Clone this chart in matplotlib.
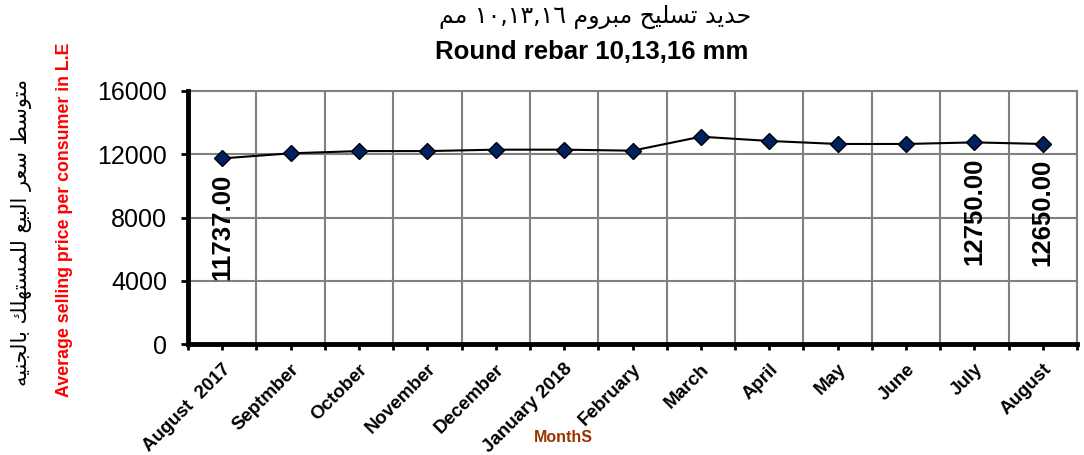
import numpy as np
import matplotlib
matplotlib.use("Agg")
import matplotlib.pyplot as plt

months = ["August  2017", "Septmber", "October", "November", "December",
          "January 2018", "February", "March", "April", "May", "June",
          "July", "August"]
prices = [11737, 12060, 12200, 12200, 12290, 12290, 12225,
          13110, 12840, 12650, 12650, 12750, 12650]
labelled = [0, 11, 12]  # points that carry a value label

title_ar = "حديد تسليح مبروم ١٠,١٣,١٦ مم"
title_en = "Round rebar 10,13,16 mm"
ylabel_ar = "متوسط سعر البيع للمستهلك بالجنيه"
ylabel_en = "Average selling price per consumer in L.E"
xlabel = "MonthS"

# small arabic shaper (no arabic_reshaper in the sandbox)
FORMS = {
    "ا": (0xFE8D, 0xFE8E, None, None),
    "ب": (0xFE8F, 0xFE90, 0xFE91, 0xFE92),
    "ة": (0xFE93, 0xFE94, None, None),
    "ت": (0xFE95, 0xFE96, 0xFE97, 0xFE98),
    "ج": (0xFE9D, 0xFE9E, 0xFE9F, 0xFEA0),
    "ح": (0xFEA1, 0xFEA2, 0xFEA3, 0xFEA4),
    "د": (0xFEA9, 0xFEAA, None, None),
    "ر": (0xFEAD, 0xFEAE, None, None),
    "س": (0xFEB1, 0xFEB2, 0xFEB3, 0xFEB4),
    "ط": (0xFEC1, 0xFEC2, 0xFEC3, 0xFEC4),
    "ع": (0xFEC9, 0xFECA, 0xFECB, 0xFECC),
    "ك": (0xFED9, 0xFEDA, 0xFEDB, 0xFEDC),
    "ل": (0xFEDD, 0xFEDE, 0xFEDF, 0xFEE0),
    "م": (0xFEE1, 0xFEE2, 0xFEE3, 0xFEE4),
    "ن": (0xFEE5, 0xFEE6, 0xFEE7, 0xFEE8),
    "ه": (0xFEE9, 0xFEEA, 0xFEEB, 0xFEEC),
    "و": (0xFEED, 0xFEEE, None, None),
    "ي": (0xFEF1, 0xFEF2, 0xFEF3, 0xFEF4),
}


def shape_word(w):
    out = ""
    for i, c in enumerate(w):
        if c not in FORMS:
            out += c
            continue
        f = FORMS[c]
        prev = w[i - 1] if i > 0 else ""
        nxt = w[i + 1] if i + 1 < len(w) else ""
        jp = prev in FORMS and FORMS[prev][2] is not None
        jn = nxt in FORMS and f[2] is not None
        if jp and jn:
            out += chr(f[3])
        elif jp:
            out += chr(f[1])
        elif jn:
            out += chr(f[2])
        else:
            out += chr(f[0])
    return out


def rtl(s):
    words = []
    for w in s.split(" "):
        if any(ch in FORMS for ch in w):
            words.append(shape_word(w)[::-1])
        else:
            words.append(w)
    return " ".join(words[::-1])


plt.rcParams["font.family"] = ["Liberation Sans", "DejaVu Sans"]

fig = plt.figure(figsize=(10.84, 4.55), dpi=100)
ax = fig.add_axes([188 / 1084, 111 / 455, 889 / 1084, 253 / 455])

x = np.arange(len(months))
ax.plot(x, prices, color="black", lw=1.5, marker="D", ms=8,
        mfc="#002060", mec="black", mew=1, zorder=5, clip_on=False)

for i in labelled:
    ax.annotate(f"{prices[i]:.2f}", (x[i], prices[i]), xytext=(0, -11),
                textcoords="offset points", rotation=90, ha="center", va="top",
                fontsize=18.5, fontweight="bold")

ax.set_xlim(-0.5, len(months) - 0.5)
ax.set_ylim(0, 16000)
ax.set_yticks([0, 4000, 8000, 12000, 16000])
ax.set_yticklabels(["0", "4000", "8000", "12000", "16000"], fontsize=18)

ax.set_xticks(x)
ax.set_xticklabels(months, rotation=45, ha="right", va="top",
                   rotation_mode="anchor", fontsize=13.5, fontweight="bold")
ax.set_xticks(np.arange(len(months) + 1) - 0.5, minor=True)
ax.tick_params(axis="x", which="both", length=4, width=2, pad=8)
ax.tick_params(axis="y", length=5, width=2, pad=10)

ax.grid(True, which="minor", axis="x", color="#808080", lw=1.5)
ax.grid(True, which="major", axis="y", color="#808080", lw=1.5)
ax.set_axisbelow(True)

for s in ["top", "right"]:
    ax.spines[s].set_color("#808080")
    ax.spines[s].set_linewidth(1.5)
for s in ["left", "bottom"]:
    ax.spines[s].set_color("black")
    ax.spines[s].set_linewidth(3.5)
    ax.spines[s].set_zorder(6)

fig.text(595 / 1084, 1 - 17 / 455, rtl(title_ar), ha="center", va="center",
         fontsize=17, family="DejaVu Sans")
fig.text(592 / 1084, 1 - 52 / 455, title_en, ha="center", va="center",
         fontsize=18.5, fontweight="bold")
fig.text(22 / 1084, 1 - 233 / 455, rtl(ylabel_ar), ha="center", va="center",
         rotation=90, fontsize=15, family="DejaVu Sans")
fig.text(65 / 1084, 1 - 220 / 455, ylabel_en, ha="center", va="center",
         rotation=90, fontsize=12.8, fontweight="bold", color="#ff0000")
fig.text(563 / 1084, 1 - 438 / 455, xlabel, ha="center", va="center",
         fontsize=11.5, fontweight="bold", color="#993300")

fig.savefig("out.png", dpi=100)
